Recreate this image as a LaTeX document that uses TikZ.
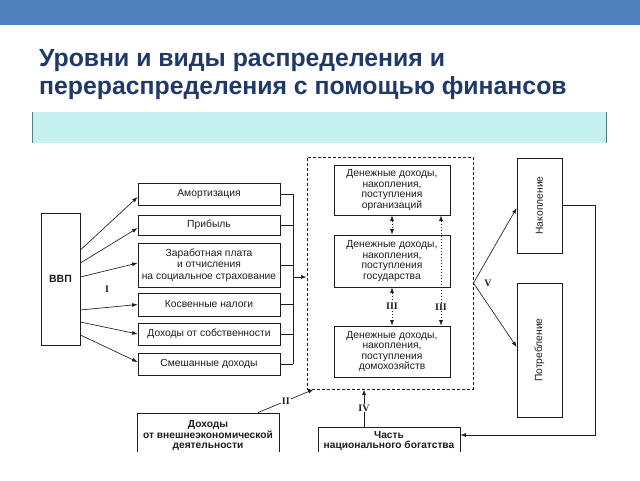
\documentclass[tikz,border=0pt]{standalone}
\usepackage{fontspec}
\setmainfont{Liberation Sans}
\newfontfamily\numfont{Liberation Serif}
\usetikzlibrary{arrows.meta}
\definecolor{barblue}{RGB}{79,129,189}
\definecolor{titleblue}{RGB}{31,58,104}
\definecolor{cyanbar}{RGB}{197,242,240}
\definecolor{ink}{RGB}{30,30,30}
\begin{document}
\begin{tikzpicture}[x=1pt,y=-1pt,
  box/.style={draw=ink, line width=0.75pt, inner sep=1pt, align=center, text=ink,
    font=\fontsize{10.3}{11.7}\selectfont},
  lbox/.style={box, minimum width=142pt},
  ibox/.style={box, minimum width=116pt, font=\fontsize{10.3}{10.6}\selectfont},
  bbox/.style={box, minimum width=142pt, font=\fontsize{10.2}{10.6}\selectfont\bfseries},
  dbox/.style={draw=ink, line width=1pt, dash pattern=on 3pt off 2pt},
  arr/.style={draw=ink, line width=0.65pt, -{Latex[length=5.5pt,width=4pt]}},
  dblarr/.style={draw=ink, line width=0.65pt, dash pattern=on 1.5pt off 1.5pt,
    {Latex[length=5.5pt,width=4pt]}-{Latex[length=5.5pt,width=4pt]}},
  ln/.style={draw=ink, line width=0.65pt},
  rn/.style={font=\numfont\bfseries\fontsize{10}{10}\selectfont, fill=white, inner sep=1pt, text=ink}
]
\useasboundingbox (0,0) rectangle (640,480);
\fill[white] (0,0) rectangle (640,480);
\fill[barblue] (0,0) rectangle (640,25);
\fill[cyanbar] (32,112) rectangle (607,143);
\draw[gray!70!teal, line width=0.7pt] (32.4,112) -- (32.4,143) (606.6,112) -- (606.6,143);

\node[anchor=base west, inner sep=0, text=titleblue, font=\fontsize{24.8}{28}\selectfont\bfseries] (t1) at (39,66) {Уровни и виды распределения и};
\node[anchor=base west, inner sep=0, text=titleblue, font=\fontsize{24.8}{28}\selectfont\bfseries] (t2) at (39,94) {перераспределения с помощью финансов};

% left column
\node[box, minimum width=39pt, minimum height=132pt, font=\fontsize{10.5}{11}\selectfont\bfseries] (vvp) at (60.5,279) {ВВП};
\node[lbox, minimum height=22pt] (am) at (209,194) {Амортизация};
\node[lbox, minimum height=20pt] (pr) at (209,225) {Прибыль};
\node[lbox, minimum height=44pt] (zp) at (209,265) {Заработная плата\\и отчисления\\на социальное страхование};
\node[lbox, minimum height=23pt] (kn) at (209,304.5) {Косвенные налоги};
\node[lbox, minimum height=22pt] (ds) at (209,334) {Доходы от собственности};
\node[lbox, minimum height=22pt] (sd) at (209,364) {Смешанные доходы};

\draw[arr] ([yshift=29pt]vvp.east) -- ([yshift=-3pt]am.west);
\draw[arr] ([yshift=16pt]vvp.east) -- ([yshift=-3pt]pr.west);
\draw[arr] ([yshift=2pt]vvp.east) -- ([yshift=2pt]zp.west);
\draw[arr] ([yshift=-31pt]vvp.east) -- (kn.west);
\draw[arr] ([yshift=-43pt]vvp.east) -- (ds.west);
\draw[arr] ([yshift=-56pt]vvp.east) -- ([yshift=2pt]sd.west);
\node[rn] (r1) at (107,289) {I};

% bus
\coordinate (busT) at (293,194);
\coordinate (busB) at (293,364);
\coordinate (busM) at (293,277);
\draw[ln] (am.east) -- (am.east -| busT) (pr.east) -- (pr.east -| busT)
  (zp.east) -- (zp.east -| busT) (kn.east) -- (kn.east -| busT)
  (ds.east) -- (ds.east -| busT) (sd.east) -- (sd.east -| busT)
  (busT) -- (busB);

% dashed region
\node[dbox, minimum width=166pt, minimum height=232pt, inner sep=0] (dreg) at (390,273) {};
\draw[arr] (busM) -- (busM -| dreg.west);

\node[ibox, minimum height=50pt] (org) at (392,190) {Денежные доходы,\\накопления,\\поступления\\организаций};
\node[ibox, minimum height=52pt] (gos) at (392,261) {Денежные доходы,\\накопления,\\поступления\\государства};
\node[ibox, minimum height=51pt] (dom) at (392,351.5) {Денежные доходы,\\накопления,\\поступления\\домохозяйств};

\draw[dblarr] (org.south) -- (gos.north);
\draw[dblarr] (gos.south) -- node[rn, pos=0.5] (r3a) {III} (dom.north);
\draw[dblarr] ([xshift=49pt]org.south) -- node[rn, pos=0.83] (r3b) {III} ([xshift=49pt]dom.north);

% right side
\node[box, minimum width=45pt, minimum height=95pt] (nak) at (539.5,205.5) {\rotatebox{90}{Накопление}};
\node[box, minimum width=45pt, minimum height=134pt] (pot) at (539.5,350) {\rotatebox{90}{Потребление}};
\draw[arr] ([yshift=-10pt]dreg.east) -- ([yshift=-2.5pt]nak.west);
\draw[arr] ([yshift=-10pt]dreg.east) -- ([yshift=3pt]pot.west);
\node[rn, fill=none] (r5) at (488,283) {V};

% bottom
\node[bbox, minimum height=45pt] (vnesh) at (208,435.5) {Доходы\\от внешнеэкономической\\деятельности};
\node[bbox, minimum height=28pt] (chast) at (389,441) {Часть\\национального богатства};

\draw[arr] ([xshift=50pt]vnesh.north) -- node[rn, pos=0.5] (r2) {II} ([xshift=7pt]dreg.south west);
\coordinate (ivx) at (364,410);
\draw[arr] (chast.north -| ivx) -- node[rn, pos=0.5] (r4) {IV} (dreg.south -| ivx);

\coordinate (loopc) at (595,435);
\draw[arr] (nak.east) -| (loopc) -- (loopc -| chast.east);

% picture is cut at the bottom
\fill[white] (0,452) rectangle (640,480);
\end{tikzpicture}
\end{document}
